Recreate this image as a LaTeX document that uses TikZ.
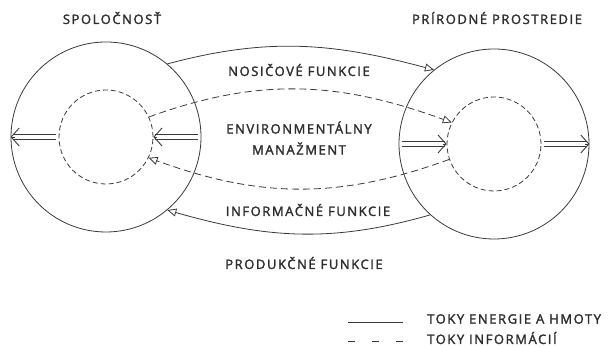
\documentclass[tikz,border=0pt]{standalone}
\usepackage{fontspec}
\setmainfont{Open Sans}[LetterSpace=12,FakeBold=2]
\usepackage{xcolor}
\usetikzlibrary{arrows.meta}
\definecolor{ink}{HTML}{3A3A3A}
\definecolor{txt}{HTML}{2E2E2E}
\begin{document}
\begin{tikzpicture}[x=1pt,y=1pt,
  ring/.style={circle,draw=ink,line width=0.8pt,minimum size=190pt,inner sep=0pt},
  core/.style={circle,draw=ink,line width=0.8pt,dash pattern=on 5pt off 3pt,minimum size=94pt,inner sep=0pt},
  lbl/.style={text=txt,font=\fontsize{13}{21}\selectfont,align=center,inner sep=0pt},
  flow/.style={draw=ink,line width=0.8pt,-{Triangle[open,length=9pt,width=8pt]}},
  info/.style={flow,dash pattern=on 7pt off 4pt},
  mass/.style={draw=ink,double=white,double distance=3.5pt,line width=0.8pt,shorten <=3pt,shorten >=2pt},
  head/.style={draw=ink,line width=0.9pt,shorten <=44pt,-{Straight Barb[length=8pt,width=18pt]}}]
\useasboundingbox (0,0) rectangle (613,347);
\node[ring] (spol) at (106,210) {};
\node[core] (spolin) at (106,210) {};
\node[ring] (prir) at (494,203) {};
\node[core] (pririn) at (494,203) {};
\node[lbl] (tspol) at (112,329) {SPOLOČNOSŤ};
\node[lbl] (tprir) at (497,329) {PRÍRODNÉ PROSTREDIE};
\node[lbl] (tnos) at (299,277) {NOSIČOVÉ FUNKCIE};
\node[lbl] (tenv) at (299,209) {ENVIRONMENTÁLNY\\MANAŽMENT};
\node[lbl] (tinf) at (308,137) {INFORMAČNÉ FUNKCIE};
\node[lbl] (tprod) at (304,84) {PRODUKČNÉ FUNKCIE};
\draw[flow] (spol.50) to[out=15,in=165] (prir.129);
\draw[flow] (prir.228) to[out=196,in=-16] (spol.-50);
\draw[info] (spolin.25) to[out=20,in=160] (pririn.153);
\draw[info] (pririn.199) to[out=200,in=-20] (spolin.-26);
\draw[mass] (spolin.west) -- (spol.west);
\draw[head] (spolin.west) -- (spol.west);
\draw[mass] (spol.east) -- (spolin.east);
\draw[head] (spol.east) -- (spolin.east);
\draw[mass] (prir.west) -- (pririn.west);
\draw[head] (prir.west) -- (pririn.west);
\draw[mass] (pririn.east) -- (prir.east);
\draw[head] (pririn.east) -- (prir.east);
\node[lbl,anchor=west] (tleg1) at (427,28) {TOKY ENERGIE A HMOTY};
\node[lbl,anchor=west] (tleg2) at (427,9) {TOKY INFORMÁCIÍ};
\draw[ink,line width=0.8pt] (348,25) -- (403,25);
\draw[ink,line width=0.8pt,dash pattern=on 7pt off 17pt] (348,6) -- (403,6);
\end{tikzpicture}
\end{document}
